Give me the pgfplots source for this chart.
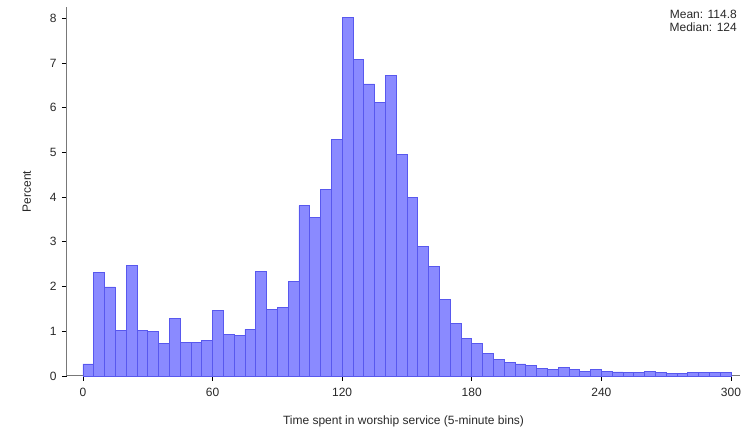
\documentclass[border=0pt]{standalone}
\usepackage{pgfplots}
\pgfplotsset{compat=1.18}
\usepackage{fontspec}
\setmainfont{Liberation Sans}
\definecolor{barfill}{RGB}{138,138,255}
\definecolor{baredge}{RGB}{88,88,238}
\definecolor{axgray}{RGB}{120,120,120}
\definecolor{txt}{RGB}{40,40,40}
\begin{document}
\begin{tikzpicture}[x=1pt,y=1pt]
\useasboundingbox (-67,-57) rectangle (678,376);
\begin{axis}[
  at={(0,0)}, anchor=south west,
  scale only axis, width=673pt, height=369pt,
  xmin=-7.4, xmax=304.2, ymin=0, ymax=8.25,
  axis x line=bottom, axis y line=left,
  axis line style={-, draw=axgray, line width=1pt},
  xtick={0,60,120,180,240,300},
  ytick={0,1,2,3,4,5,6,7,8},
  tick align=outside, major tick length=5pt,
  tick style={black, line width=0.8pt},
  /pgf/number format/assume math mode=true,
  ticklabel style={font=\fontsize{12}{14}\selectfont, text=txt},
  xticklabel style={yshift=-4pt},
  yticklabel style={xshift=-2pt},
  xlabel={Time spent in worship service (5-minute bins)},
  ylabel={Percent},
  label style={font=\fontsize{12}{14}\selectfont, text=txt},
  xlabel style={yshift=-12pt},
  ylabel style={yshift=12pt},
  clip=false,
]
\addplot[ybar interval, fill=barfill, draw=baredge, line width=0.8pt] coordinates {
(0,0.27) (5,2.31) (10,1.99) (15,1.01) (20,2.47) (25,1.01) (30,1.00) (35,0.72)
(40,1.29) (45,0.74) (50,0.75) (55,0.80) (60,1.47) (65,0.93) (70,0.90) (75,1.04)
(80,2.34) (85,1.48) (90,1.54) (95,2.11) (100,3.81) (105,3.55) (110,4.17) (115,5.29)
(120,8.01) (125,7.07) (130,6.53) (135,6.12) (140,6.71) (145,4.96) (150,4.00) (155,2.89)
(160,2.44) (165,1.71) (170,1.18) (175,0.84) (180,0.73) (185,0.51) (190,0.37) (195,0.30)
(200,0.27) (205,0.23) (210,0.16) (215,0.14) (220,0.20) (225,0.15) (230,0.11) (235,0.15)
(240,0.10) (245,0.09) (250,0.08) (255,0.08) (260,0.10) (265,0.08) (270,0.06) (275,0.06)
(280,0.07) (285,0.07) (290,0.08) (295,0.07) (300,0.07)
};
\end{axis}
\node[anchor=north east, align=right, font=\fontsize{12}{13}\selectfont, text=txt, inner sep=0pt] at (670,366) {Mean: 114.8\\Median: 124};
\end{tikzpicture}
\end{document}
